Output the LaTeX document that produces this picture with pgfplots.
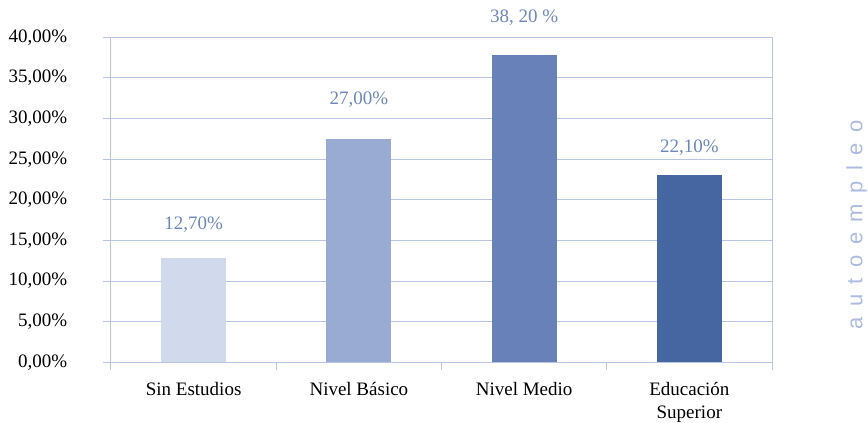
\documentclass[border=0pt]{standalone}
\usepackage{pgfplots}
\pgfplotsset{compat=1.18}
\usepackage{fontspec}
\setmainfont{Liberation Serif}
\setsansfont{Liberation Sans}
\definecolor{gridc}{HTML}{B7C4E6}
\definecolor{barA}{HTML}{D1DAEC}
\definecolor{barB}{HTML}{99ABD3}
\definecolor{barC}{HTML}{6881B8}
\definecolor{barD}{HTML}{4666A2}
\definecolor{labc}{HTML}{6E86BE}
\definecolor{wmark}{HTML}{ADBBE0}
\begin{document}
\begin{tikzpicture}
\begin{axis}[name=ax, scale only axis, width=661bp, height=325bp,
  xmin=0.5, xmax=4.5, ymin=0, ymax=40, clip=false,
  xtick={0.5,1.5,2.5,3.5,4.5}, xticklabels={},
  extra x ticks={1,2,3,4},
  extra x tick labels={Sin Estudios, Nivel Básico, Nivel Medio, {Educación\\Superior}},
  extra x tick style={grid=none, major tick length=0pt,
    xticklabel style={align=center, anchor=north, inner sep=0pt, yshift=-20bp}},
  ytick={0,5,10,15,20,25,30,35,40},
  yticklabels={{0,00\%},{5,00\%},{10,00\%},{15,00\%},{20,00\%},{25,00\%},{30,00\%},{35,00\%},{40,00\%}},
  yticklabel style={anchor=east, inner sep=0pt, xshift=-36bp},
  ymajorgrids, grid style={gridc, line width=1bp},
  axis line style={gridc, line width=1bp},
  tick style={gridc, line width=1bp},
  tick align=outside, major tick length=7.5bp,
  xtick pos=lower, ytick pos=left,
  tick label style={font=\fontsize{19bp}{22.3bp}\selectfont, text=black},
  ybar, bar width=65bp,
]
\addplot[ybar, bar shift=0pt, fill=barA, draw=none] coordinates {(1,12.8)};
\addplot[ybar, bar shift=0pt, fill=barB, draw=none] coordinates {(2,27.5)};
\addplot[ybar, bar shift=0pt, fill=barC, draw=none] coordinates {(3,37.8)};
\addplot[ybar, bar shift=0pt, fill=barD, draw=none] coordinates {(4,23.0)};
\begin{scope}[every node/.style={text=labc, font=\fontsize{19bp}{22bp}\selectfont}]
\node at (axis cs:1,16.9) {12,70\%};
\node at (axis cs:2,32.3) {27,00\%};
\node at (axis cs:3,42.4) {38, 20 \%};
\node at (axis cs:4,26.4) {22,10\%};
\end{scope}
\end{axis}
\node[rotate=90, text=wmark, font=\sffamily\fontsize{22bp}{24bp}\selectfont, inner sep=0pt]
  at ([shift={(84.7bp,137.3bp)}]ax.south east) {a\kern10.4bp u\kern10.4bp t\kern10.4bp o\kern10.4bp e\kern10.4bp m\kern10.4bp p\kern10.4bp l\kern10.4bp e\kern10.4bp o};
\pgfresetboundingbox
\path[use as bounding box] ([shift={(-111bp,-60.7bp)}]ax.south west) rectangle ([shift={(96bp,37.3bp)}]ax.north east);
\end{tikzpicture}
\end{document}
